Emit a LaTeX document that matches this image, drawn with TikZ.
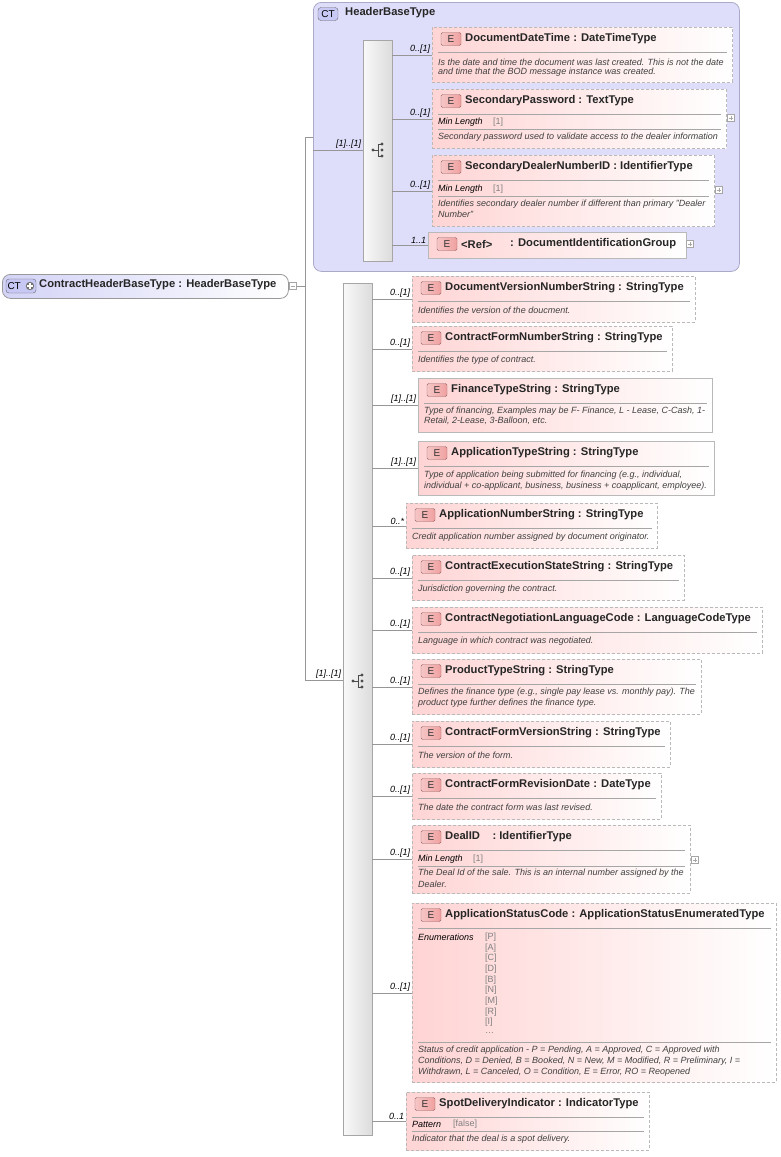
\documentclass[tikz,border=0pt]{standalone}
\usepackage{fontspec}
\setmainfont{Liberation Sans}
\usetikzlibrary{calc}

\definecolor{elpink}{RGB}{255,212,212}
\definecolor{badgepink}{RGB}{240,160,160}
\definecolor{grpblue}{RGB}{222,222,250}
\definecolor{grpline}{RGB}{170,170,200}
\definecolor{ctblue}{RGB}{200,200,245}
\definecolor{boxline}{RGB}{185,185,185}
\definecolor{conline}{RGB}{150,150,150}

\tikzset{
  elem/.style={draw=boxline, line width=0.9pt, left color=elpink, right color=white,
    inner sep=0pt, anchor=north west},
  opt/.style={dashed, dash pattern=on 3pt off 2pt},
  req/.style={solid},
  ebadge/.style={draw=gray!80!red, rounded corners=1.5pt, left color=badgepink!60, right color=badgepink,
    minimum width=20pt, minimum height=13pt, inner sep=0pt, font=\fontsize{10}{11}\selectfont, text=black!80},
  ttl/.style={font=\bfseries\fontsize{11.2}{12}\selectfont, anchor=west, inner sep=0pt, text=black!85},
  desc/.style={font=\itshape\fontsize{9}{10}\selectfont, anchor=west, inner sep=0pt, text=black!75},
  facet/.style={font=\itshape\fontsize{9}{10}\selectfont, anchor=west, inner sep=0pt},
  fval/.style={font=\fontsize{9}{10}\selectfont, anchor=west, inner sep=0pt, text=gray},
  sep/.style={draw=gray!70, line width=0.5pt},
  con/.style={draw=conline, line width=0.6pt},
  mult/.style={font=\itshape\fontsize{9}{10}\selectfont, anchor=south east, inner sep=1.5pt},
  bar/.style={draw=gray!70, left color=gray!5, right color=gray!28, inner sep=0pt, anchor=north west},
  expd/.style={draw=gray!70, fill=white, minimum size=7pt, inner sep=0pt},
}

% name, x1, y1, x2, y2, border, title
\newcommand\elbox[7]{%
  \node[elem,#6,minimum width={#4pt-#2pt},minimum height={#5pt-#3pt}] (#1) at (#2,#3) {};
  \node[ebadge] at ($(#1.north west)+(19,12)$) {E};
  \node[ttl] at ($(#1.north west)+(33,12)$) {#7};
  \draw[sep] ($(#1.north west)+(6,25)$) -- ($(#1.north east)+(-6,25)$);
}
\newcommand\facetline[2]{%
  \draw[sep] ($(#1.north west)+(6,#2)$) -- ($(#1.north east)+(-6,#2)$);
}
\newcommand\expander[1]{%
  \node[expd] at (#1) {};
  \draw[gray!70,line width=0.5pt] ($(#1)+(-2.3,0)$) -- ($(#1)+(2.3,0)$) ($(#1)+(0,-2.3)$) -- ($(#1)+(0,2.3)$);
}
\newcommand\seqicon[1]{%
  \fill[black!70] ($(#1)+(-5,0)$) circle (1.6pt);
  \draw[black!70,line width=0.7pt] ($(#1)+(-5,0)$) -- ($(#1)+(0,0)$) ($(#1)+(0,-6)$) -- ($(#1)+(0,6)$)
    ($(#1)+(0,-6)$) -- ($(#1)+(4,-6)$) ($(#1)+(0,6)$) -- ($(#1)+(4,6)$);
  \fill[black!70] ($(#1)+(4,-6)$) circle (1.6pt) ($(#1)+(4,0)$) circle (1.6pt) ($(#1)+(4,6)$) circle (1.6pt);
}

\begin{document}
\begin{tikzpicture}[x=1pt,y=-1pt]
\useasboundingbox (0,0) rectangle (781,1157);

% ---------- header group ----------
\node[draw=grpline, fill=grpblue, rounded corners=8pt, line width=0.8pt, anchor=north west,
  minimum width=426pt, minimum height=269pt, inner sep=0pt] (hgrp) at (313,2) {};
\node[draw=black!60, fill=ctblue, rounded corners=3pt, minimum width=20pt, minimum height=13pt,
  inner sep=0pt, font=\fontsize{10}{11}\selectfont] (hct) at (328,14) {CT};
\node[ttl] (htitle) at (345,13) {HeaderBaseType};
\node[bar, minimum width=29pt, minimum height=221pt] (hbar) at (363,40) {};
\seqicon{378,150}

\elbox{e1}{432}{27}{732}{82}{opt}{DocumentDateTime : DateTimeType}
\node[desc] at (438,62) {Is the date and time the document was last created. This is not the date};
\node[desc] at (438,72) {and time that the BOD message instance was created.};

\elbox{e2}{432}{89}{726}{148}{opt}{SecondaryPassword : TextType}
\node[facet] at (438,122) {Min Length};
\node[fval] at (493,122) {[1]};
\facetline{e2}{40}
\node[desc] at (438,137) {Secondary password used to validate access to the dealer information};
\expander{731,118}

\elbox{e3}{432}{155}{714}{226}{opt}{SecondaryDealerNumberID : IdentifierType}
\node[facet] at (438,189) {Min Length};
\node[fval] at (493,189) {[1]};
\facetline{e3}{41}
\node[desc] at (438,204) {Identifies secondary dealer number if different than primary "Dealer};
\node[desc] at (438,214) {Number"};
\expander{719,190}

\node[elem,req,minimum width=258pt,minimum height=26pt] (e4) at (428,232) {};
\node[ebadge] at ($(e4.north west)+(19,12)$) {E};
\node[ttl] at ($(e4.north west)+(33,12)$) {<Ref>};
\node[ttl] at (510,244) {: DocumentIdentificationGroup};
\expander{690,244}

\foreach \e/\m in {e1/0..[1], e2/0..[1], e3/0..[1], e4/1..1}
  \draw[con] (hbar.east |- \e.west) -- (\e.west) node[mult] {\m};

% ---------- root ----------
\node[draw=gray!80, rounded corners=8pt, left color=ctblue!80, right color=white, line width=0.8pt,
  anchor=north west, minimum width=286pt, minimum height=24pt, inner sep=0pt] (root) at (2,274) {};
\node[draw=black!60, fill=ctblue, rounded corners=3pt, minimum width=30pt, minimum height=14pt,
  inner sep=1.5pt, font=\fontsize{10}{11}\selectfont, text width=27pt, align=left] (rct) at (21,286) {CT};
\fill[black!55] (30,286) circle (4.2pt);
\draw[white, line width=1.2pt] (27.4,286) -- (32.6,286) (30,283.4) -- (30,288.6);
\node[ttl] at (39,285) {ContractHeaderBaseType : HeaderBaseType};
\node[expd] (rexp) at (293,286) {};
\draw[gray!70,line width=0.5pt] (290.7,286) -- (295.3,286);

% ---------- main sequence ----------
\node[bar, minimum width=29pt, minimum height=852pt] (mbar) at (343,283) {};
\seqicon{358,681}

\coordinate (split) at (305,286);
\coordinate (top) at (305,137);
\coordinate (bot) at (305,680);
\coordinate (hin) at (313,150);
\draw[con] (rexp.east) -- (split);
\draw[con] (top) -- (bot);
\draw[con] (top) -- (hgrp.west |- top);
\draw[con] (hgrp.west |- hin) -- (hbar.west |- hin) node[mult] {[1]..[1]};
\draw[con] (bot) -- (mbar.west |- bot) node[mult] {[1]..[1]};

\elbox{m1}{412}{276}{695}{322}{opt}{DocumentVersionNumberString : StringType}
\node[desc] at (418,310) {Identifies the version of the doucment.};

\elbox{m2}{412}{326}{672}{371}{opt}{ContractFormNumberString : StringType}
\node[desc] at (418,360) {Identifies the type of contract.};

\elbox{m3}{418}{378}{712}{432}{req}{FinanceTypeString : StringType}
\node[desc] at (424,411) {Type of financing, Examples may be F- Finance, L - Lease, C-Cash, 1-};
\node[desc] at (424,421) {Retail, 2-Lease, 3-Balloon, etc.};

\elbox{m4}{418}{441}{714}{495}{req}{ApplicationTypeString : StringType}
\node[desc] at (424,475) {Type of application being submitted for financing (e.g., individual,};
\node[desc] at (424,486) {individual + co-applicant, business, business + coapplicant, employee).};

\elbox{m5}{406}{503}{657}{548}{opt}{ApplicationNumberString : StringType}
\node[desc] at (412,537) {Credit application number assigned by document originator.};

\elbox{m6}{412}{555}{684}{600}{opt}{ContractExecutionStateString : StringType}
\node[desc] at (418,589) {Jurisdiction governing the contract.};

\elbox{m7}{412}{607}{762}{653}{opt}{ContractNegotiationLanguageCode : LanguageCodeType}
\node[desc] at (418,641) {Language in which contract was negotiated.};

\elbox{m8}{412}{659}{701}{714}{opt}{ProductTypeString : StringType}
\node[desc] at (418,692) {Defines the finance type (e.g., single pay lease vs. monthly pay). The};
\node[desc] at (418,703) {product type further defines the finance type.};

\elbox{m9}{412}{721}{670}{767}{opt}{ContractFormVersionString : StringType}
\node[desc] at (418,755) {The version of the form.};

\elbox{m10}{412}{773}{661}{819}{opt}{ContractFormRevisionDate : DateType}
\node[desc] at (418,807) {The date the contract form was last revised.};

\elbox{m11}{412}{825}{690}{893}{opt}{DealID\ \ \ \ : IdentifierType}
\node[facet] at (418,859) {Min Length};
\node[fval] at (473,859) {[1]};
\facetline{m11}{41}
\node[desc] at (418,873) {The Deal Id of the sale. This is an internal number assigned by the};
\node[desc] at (418,884) {Dealer.};
\expander{695,860}

\elbox{m12}{412}{903}{776}{1082}{opt}{ApplicationStatusCode : ApplicationStatusEnumeratedType}
\node[facet] at (418,937) {Enumerations};
\foreach \v [count=\i from 0] in {[P],[A],[C],[D],[B],[N],[M],[R],[I]}
  \node[fval] at (485,{937+\i*10.7}) {\v};
\node[fval] at (485,1033) {\ldots};
\facetline{m12}{139}
\node[desc] at (418,1050) {Status of credit application - P = Pending, A = Approved, C = Approved with};
\node[desc] at (418,1061) {Conditions, D = Denied, B = Booked, N = New, M = Modified, R = Preliminary, I =};
\node[desc] at (418,1072) {Withdrawn, L = Canceled, O = Condition, E = Error, RO = Reopened};

\elbox{m13}{406}{1092}{649}{1150}{opt}{SpotDeliveryIndicator : IndicatorType}
\node[facet] at (412,1124) {Pattern};
\node[fval] at (453,1124) {[false]};
\facetline{m13}{39}
\node[desc] at (412,1139) {Indicator that the deal is a spot delivery.};

\foreach \e/\m in {m1/0..[1], m2/0..[1], m3/[1]..[1], m4/[1]..[1], m5/0..*, m6/0..[1],
  m7/0..[1], m8/0..[1], m9/0..[1], m10/0..[1], m11/0..[1], m12/0..[1], m13/0..1}
  \draw[con] (mbar.east |- \e.west) -- (\e.west) node[mult] {\m};
\end{tikzpicture}
\end{document}
